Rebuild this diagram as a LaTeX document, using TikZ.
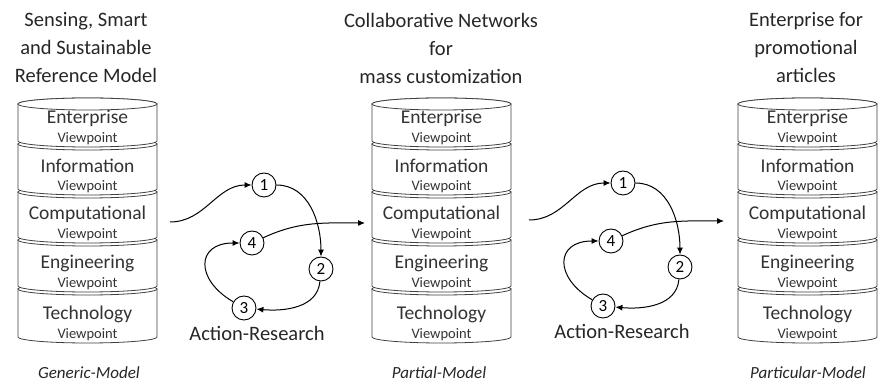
\documentclass[tikz,border=0pt]{standalone}
\usepackage{fontspec}
\setmainfont{Carlito}
\usetikzlibrary{positioning}
\usetikzlibrary{arrows.meta}

\begin{document}
\begin{tikzpicture}[x=1pt,y=1pt,>={Latex[length=7pt,width=6pt]}]
\tikzstyle{layer}=[draw=black!75,fill=white,line width=0.8pt]
\tikzstyle{vptitle}=[inner sep=0pt,text=black!80,font=\fontsize{19.5}{19.5}\selectfont]
\tikzstyle{vpsub}=[inner sep=0pt,text=black!80,font=\fontsize{14.5}{14.5}\selectfont]
\tikzstyle{heading}=[align=center,text=black!85,font=\fontsize{20.5}{28}\selectfont]
\tikzstyle{modelname}=[text=black!85,font=\itshape\fontsize{17}{17}\selectfont]
\tikzstyle{stage}=[circle,draw,fill=white,line width=0.9pt,inner sep=0pt,minimum size=24pt,font=\fontsize{17}{17}\selectfont]
\tikzstyle{flow}=[->,line width=1pt]

\useasboundingbox (0,0) rectangle (881,385);

% \draw[help lines] (0,0) grid (881,385);

\foreach \sx/\s in {18/gen,372/par,738/spc}{
  \foreach \name/\yt/\yb [count=\i] in {Technology/96/48,Engineering/145/99,Computational/193/148,Information/241/196,Enterprise/281/244}{
    \filldraw[layer] (\sx,\yt) -- (\sx,\yb) arc[start angle=180,end angle=360,x radius=69.5,y radius=6]
          -- (\sx+139,\yt) arc[start angle=0,end angle=180,x radius=69.5,y radius=6] -- cycle;
    \draw[layer] (\sx+69.5,\yt) ellipse [x radius=69.5,y radius=6];
    \node[vptitle] (\s\i) at (\sx+69.5,\yb+23) {\name};
    \node[vpsub] (\s\i-vp) at (\sx+69.5,\yb+2.5) {Viewpoint};
  }
}

\node[heading] (genTitle) at (86,337) {Sensing, Smart\\and Sustainable\\Reference Model};
\node[heading] (parTitle) at (441,337) {Collaborative Networks\\for\\mass customization};
\node[heading] (spcTitle) at (806,337) {Enterprise for\\promotional\\articles};

\node[modelname] (genModel) at (89,12) {Generic-Model};
\node[modelname] (parModel) at (439,12) {Partial-Model};
\node[modelname] (spcModel) at (808,12) {Particular-Model};

\foreach \cx/\cy/\lx/\c in {0/0/257/L,359/2/622/R}{
  \coordinate (\c in) at (170+\cx,163+\cy);
  \coordinate (\c out) at (365+\cx,162+\cy);

  \node[stage] (\c1) at (264+\cx,200+\cy) {1};
  \node[stage] (\c2) at (321+\cx,116+\cy) {2};
  \node[stage] (\c3) at (244+\cx,77+\cy) {3};
  \node[stage] (\c4) at (252+\cx,142+\cy) {4};

  \node[heading] (\c lab) at (\lx,52+\cy) {Action-Research};

  \draw[flow] (\c in) to [out=0,in=180] (\c1);
  \draw[flow] (\c1) to [out=0,in=90] (\c2);
  \draw[flow] (\c2) to [out=-95,in=-5] (\c3);
  \draw[flow] (\c3) to [out=150,in=180,looseness=1.9] (\c4);
  \draw[flow] (\c4) to [out=25,in=180] (\c out);
}

\end{tikzpicture}
\end{document}
